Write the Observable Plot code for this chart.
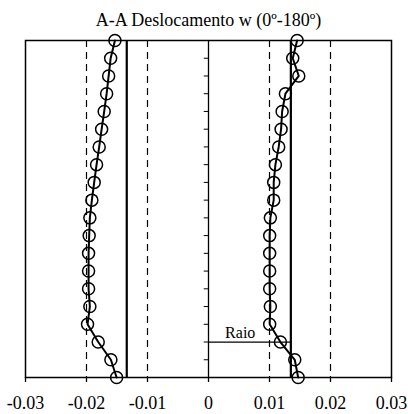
<!DOCTYPE html>
<html>
<head>
<meta charset="utf-8">
<script src="https://cdn.jsdelivr.net/npm/d3@7"></script>
<script src="https://cdn.jsdelivr.net/npm/@observablehq/plot@0.6"></script>
<style>
  html, body { margin: 0; padding: 0; background: #fff; }
  #chart svg { display: block; }
</style>
</head>
<body>
<div id="chart"></div>
<script>
const title = "A-A Deslocamento w (0º-180º)";
// height levels, top to bottom
const levels = [19, 18, 17, 16, 15, 14, 13, 12, 11, 10, 9, 8, 7, 6, 5, 4, 3, 2, 1, 0];
const leftW = [-0.01534, -0.01604, -0.01637, -0.01670, -0.01710, -0.01752, -0.01792, -0.01835, -0.01874, -0.01912,
               -0.01945, -0.01956, -0.01966, -0.01966, -0.01966, -0.01945, -0.01983, -0.01808, -0.01600, -0.01506];
const rightW = [0.01453, 0.01381, 0.01480, 0.01261, 0.01207, 0.01190, 0.01151, 0.01097, 0.01069, 0.01069,
                0.01014, 0.01003, 0.01003, 0.01003, 0.01003, 0.01014, 0.01003, 0.01179, 0.01414, 0.01470];
const refLines = [-0.0134, 0.0135];
const raioLevel = 2;
const raioEnd = 0.0135;
const raioLabel = "Raio";
const raioLabelX = 0.0052;
const xTicks = [-0.03, -0.02, -0.01, 0, 0.01, 0.02, 0.03];
const xTickLabels = ["-0.03", "-0.02", "-0.01", "0", "0.01", "0.02", "0.03"];
const dashedGrid = [-0.02, -0.01, 0.01, 0.02];
const zeroAxisTicks = [1, 2, 3, 4, 5, 6, 7, 8, 9, 10, 11, 12, 13, 14, 15, 16, 17, 18];
const zeroTickLen = 0.0007;

const left = levels.map((y, i) => ({y, w: leftW[i]}));
const right = levels.map((y, i) => ({y, w: rightW[i]}));

const font = "'Liberation Serif', 'Times New Roman', serif";

const chart = Plot.plot({
  width: 408,
  height: 414,
  marginLeft: 25,
  marginRight: 17,
  marginTop: 40,
  marginBottom: 37,
  style: {fontFamily: font, background: "#fff", color: "#000"},
  x: {domain: [-0.03, 0.03], label: null},
  y: {domain: [0, 19], axis: null},
  marks: [
    Plot.ruleX(dashedGrid, {stroke: "#000", strokeWidth: 1.2, strokeDasharray: "7,5"}),
    Plot.ruleX([0], {stroke: "#000", strokeWidth: 1.3}),
    Plot.ruleY(zeroAxisTicks, {x1: 0, x2: -zeroTickLen, stroke: "#000", strokeWidth: 1}),
    Plot.ruleX(refLines, {stroke: "#000", strokeWidth: 2.2}),
    Plot.ruleY([raioLevel], {x1: 0, x2: raioEnd, stroke: "#000", strokeWidth: 1.2}),
    Plot.text([raioLabel], {x: raioLabelX, y: raioLevel, text: d => d, dy: -4, lineAnchor: "bottom", fontSize: 16, fill: "#000"}),
    Plot.line(left, {x: "w", y: "y", stroke: "#000", strokeWidth: 2}),
    Plot.line(right, {x: "w", y: "y", stroke: "#000", strokeWidth: 2}),
    Plot.dot(left, {x: "w", y: "y", r: 6, stroke: "#000", strokeWidth: 1.5, fill: "none"}),
    Plot.dot(right, {x: "w", y: "y", r: 6, stroke: "#000", strokeWidth: 1.5, fill: "none"}),
    Plot.frame({stroke: "#000", strokeWidth: 1.5}),
    Plot.axisX({ticks: xTicks, tickFormat: (d) => xTickLabels[xTicks.indexOf(d)], tickSize: 5, tickPadding: 14, fontSize: 18, label: null, stroke: "#000", strokeWidth: 1.3}),
    Plot.text([title], {frameAnchor: "top", dy: -15, lineAnchor: "bottom", fontSize: 18, fill: "#000"})
  ]
});
document.getElementById("chart").appendChild(chart);
</script>
</body>
</html>
